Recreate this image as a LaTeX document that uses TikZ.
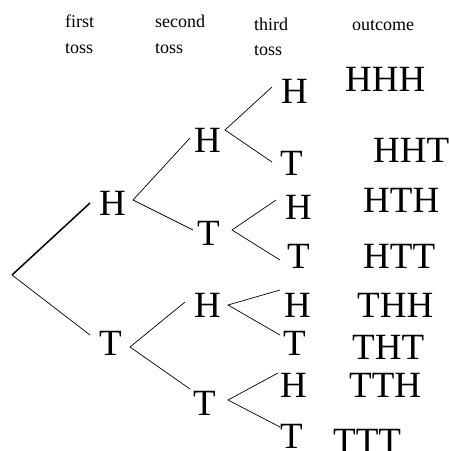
\documentclass[tikz,border=0pt]{standalone}
\usepackage{fontspec}
\setmainfont{Liberation Serif}
\begin{document}
\begin{tikzpicture}[x=1pt,y=-1pt,
  hdr/.style={anchor=base west,inner sep=0pt,font=\fontsize{18}{18}\selectfont},
  big/.style={anchor=base west,inner sep=0pt,font=\fontsize{37}{37}\selectfont},
  branch/.style={line width=0.7pt},
  thick branch/.style={line width=1.5pt}]
\useasboundingbox (0,0) rectangle (449,451);
% headers
\node[hdr] (h1a) at (65,27) {first};
\node[hdr] (h1b) at (65,53) {toss};
\node[hdr] (h2a) at (155,27) {second};
\node[hdr] (h2b) at (155,53) {toss};
\node[hdr] (h3a) at (254,30) {third};
\node[hdr] (h3b) at (254,55) {toss};
\node[hdr] (h4) at (352,30) {outcome};
% first toss
\node[big] (H) at (99,215) {H};
\node[big] (T) at (99,355) {T};
% second toss
\node[big] (HH) at (194,152) {H};
\node[big] (HT) at (197,245) {T};
\node[big] (TH) at (194,317) {H};
\node[big] (TT) at (193,415) {T};
% third toss
\node[big] (HHH) at (281,103) {H};
\node[big] (HHT) at (280,175) {T};
\node[big] (HTH) at (285,219) {H};
\node[big] (HTT) at (287,268) {T};
\node[big] (THH) at (284,317) {H};
\node[big] (THT) at (283,355) {T};
\node[big] (TTH) at (280,397) {H};
\node[big] (TTT) at (280,448) {T};
% outcomes
\node[big] (oHHH) at (345,91) {HHH};
\node[big] (oHHT) at (373,162) {HHT};
\node[big] (oHTH) at (363,212) {HTH};
\node[big] (oHTT) at (363,268) {HTT};
\node[big] (oTHH) at (357,317) {THH};
\node[big] (oTHT) at (352,359) {THT};
\node[big] (oTTH) at (349,397) {TTH};
\node[big] (oTTT) at (333,453) {TTT};
% branch points and ends
\coordinate (r) at (12,275);
\coordinate (rH) at (90,203);
\coordinate (rT) at (90,335);
\coordinate (vH) at (133,200);
\coordinate (vHH) at (190,138);
\coordinate (vHT) at (193,230);
\coordinate (vT) at (130,347);
\coordinate (vTH) at (185,302);
\coordinate (vTT) at (190,389);
\coordinate (wHH) at (225,130);
\coordinate (wHHH) at (272,87);
\coordinate (wHHT) at (272,162);
\coordinate (wHT) at (232,230);
\coordinate (wHTH) at (276,200);
\coordinate (wHTT) at (280,260);
\coordinate (wTH) at (228,305);
\coordinate (wTHH) at (280,290);
\coordinate (wTHT) at (280,335);
\coordinate (wTT) at (228,400);
\coordinate (wTTH) at (278,373);
\coordinate (wTTT) at (280,427);
\draw[thick branch] (r) -- (rH);
\draw[branch] (r) -- (rT);
\draw[branch] (vHH) -- (vH) -- (vHT);
\draw[branch] (vTH) -- (vT) -- (vTT);
\draw[branch] (wHHH) -- (wHH) -- (wHHT);
\draw[branch] (wHTH) -- (wHT) -- (wHTT);
\draw[branch] (wTHH) -- (wTH) -- (wTHT);
\draw[branch] (wTTH) -- (wTT) -- (wTTT);
\end{tikzpicture}
\end{document}
